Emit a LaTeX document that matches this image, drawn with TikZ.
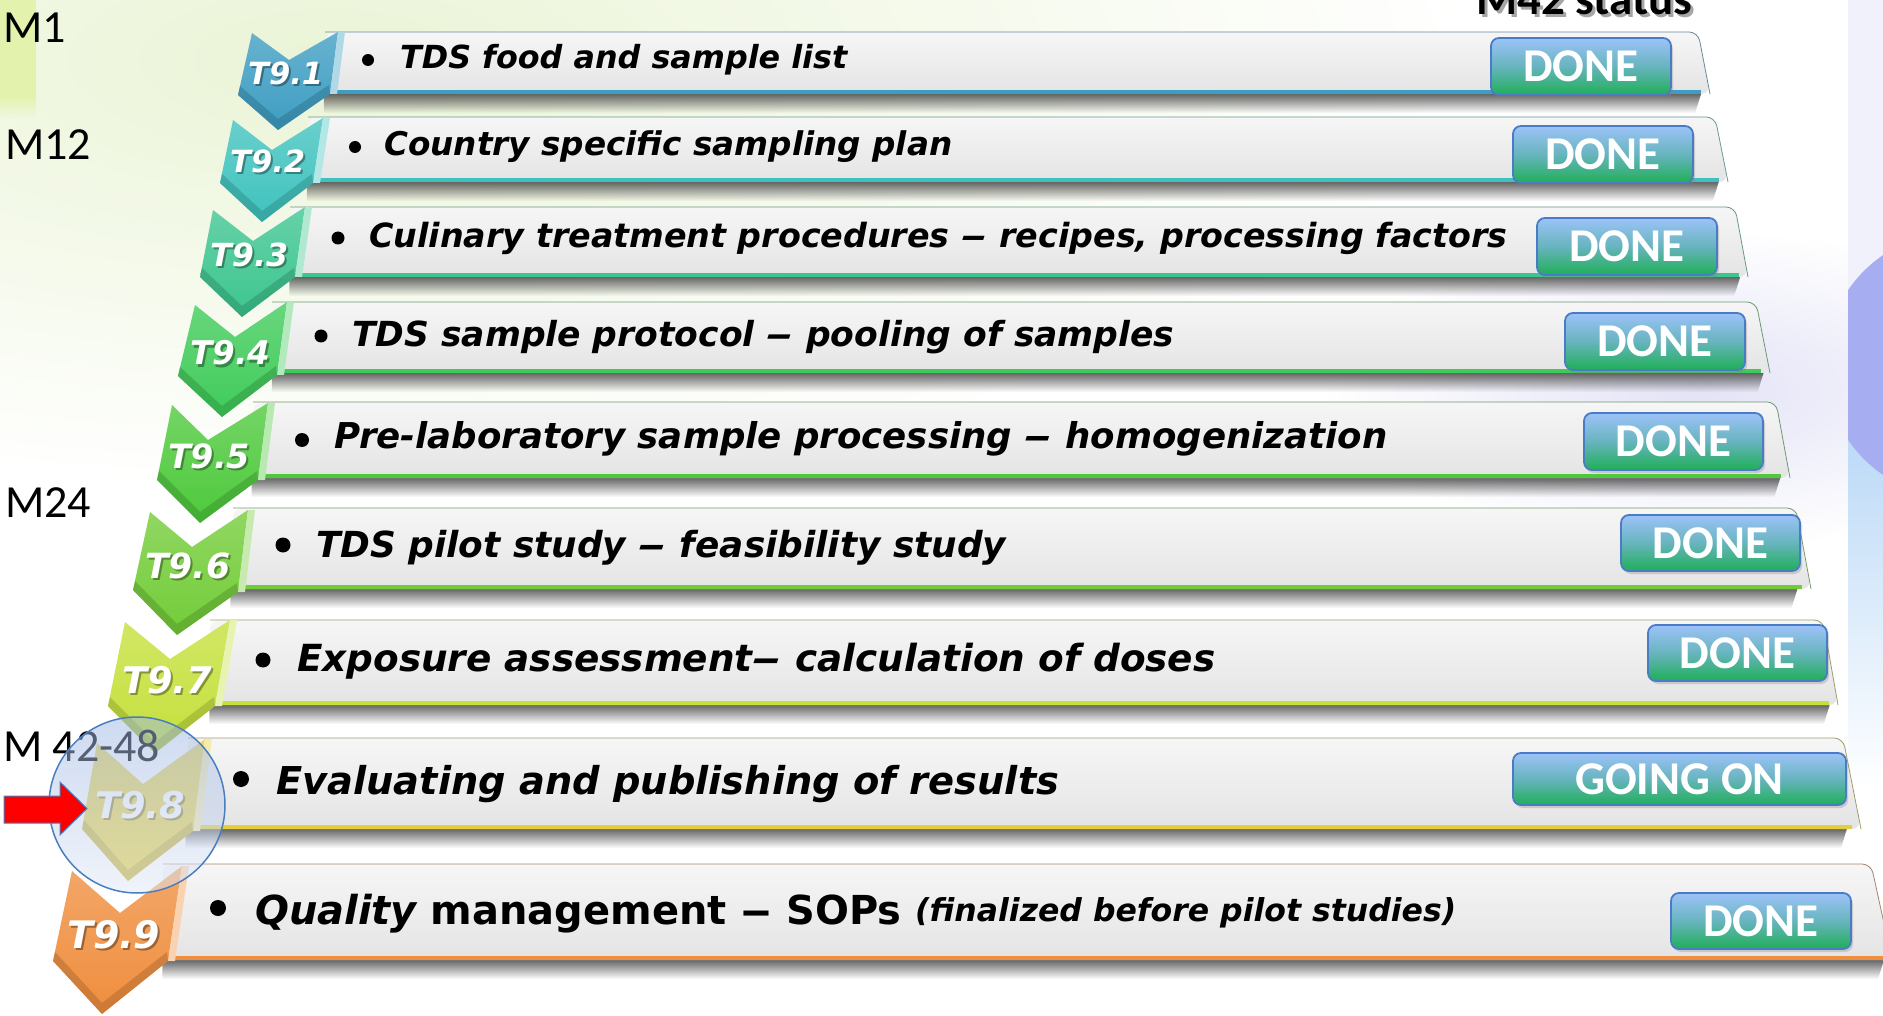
\documentclass[tikz,border=0pt]{standalone}
\usepackage{fontspec}
\usepackage{graphicx}
\usetikzlibrary{calc,fadings,shadows}
\newfontfamily\verdanalike{DejaVu Sans}[BoldFont={DejaVu Sans Bold},ItalicFont={DejaVu Sans Oblique},BoldItalicFont={DejaVu Sans Bold Oblique}]
\newfontfamily\calibrilike{Carlito}

\definecolor{washgreen}{HTML}{EAF4D6}
\definecolor{limeA}{HTML}{E3F3AE}
\definecolor{lavwash}{HTML}{E3E3F7}
\definecolor{stripTop}{HTML}{F1F1FB}
\definecolor{stripPurple}{HTML}{A7ADF1}
\definecolor{stripBlue}{HTML}{BDE2F8}
\definecolor{barhi}{HTML}{F6F6F6}
\definecolor{barlo}{HTML}{E4E4E4}
\definecolor{btntop}{HTML}{9CC3F8}
\definecolor{btnmid}{HTML}{67B4BE}
\definecolor{btnbot}{HTML}{1FAF57}
\definecolor{btnedge}{HTML}{4A7BC6}
\definecolor{cA}{HTML}{3D9DC2}
\definecolor{cB}{HTML}{3FC2BE}
\definecolor{cC}{HTML}{3CC58F}
\definecolor{cD}{HTML}{3FCB59}
\definecolor{cE}{HTML}{4DC93B}
\definecolor{cF}{HTML}{72CC37}
\definecolor{cG}{HTML}{C4E03A}
\definecolor{cH}{HTML}{E5CE3E}
\definecolor{cI}{HTML}{EF8E3E}
\definecolor{ringblue}{HTML}{4A7EC0}
\definecolor{ringfill}{HTML}{9DB6E4}

\tikzfading[name=shadowfade, top color=transparent!15, bottom color=transparent!100]
\tikzfading[name=fadedown, top color=transparent!0, bottom color=transparent!100]

% a dash drawn a little wider than the font's own
\newcommand\widedash{\scalebox{1.6}[1]{–}}

% task bar: #1 colour, #2 left x, #3 top y, #4 bottom y, #5 top-right x, #6 bottom-right x
\newcommand\taskbar[6]{%
  \fill[black!70, path fading=shadowfade] (#2,#4) -- (#6-6,#4) -- (#6-12,#4+19) -- (#2,#4+19) -- cycle;
  \shade[top color=barhi, bottom color=barlo, rounded corners=9pt] (#2,#3) -- (#5,#3) -- (#6,#4) -- (#2,#4) -- cycle;
  \draw[#1!35!gray, line width=0.8pt, rounded corners=9pt] (#2,#3) -- (#5,#3) -- (#6,#4);
  \draw[#1, line width=3.5pt] (#2,#4-1.8) -- (#6-9,#4-1.8);
}
% chevron from the named corner points of row #1, colour #2
\newcommand\taskchevron[2]{%
  \shade[top color=#2!78!white, bottom color=#2] (#1tl) -- (#1n) -- (#1tr) -- (#1rb) -- (#1p) -- (#1lb) -- cycle;
  \fill[#2!40!white] (#1tr) -- ++(7,0) -- ($(#1rb)+(7,0)$) -- (#1rb) -- cycle;
  \fill[#2!70!black, opacity=.45] (#1lb) -- (#1p) -- (#1rb) -- ($(#1rb)+(-1,-9)$) -- ($(#1p)+(0,-11)$) -- ($(#1lb)+(2,-9)$) -- cycle;
}

\begin{document}
\begin{tikzpicture}[x=1pt,y=-1pt,
  tasktext/.style={font=\verdanalike\bfseries\itshape, inner sep=0pt, anchor=base west, text=black},
  tasklabel/.style={font=\verdanalike\bfseries\itshape, text=white, inner sep=0pt, anchor=base west},
  labelshadow/.style={font=\verdanalike\bfseries\itshape, text=black, opacity=.35, inner sep=0pt, anchor=base west},
  bulletdot/.style={circle, fill=black, inner sep=0pt},
  statusbtn/.style={rounded corners=8pt, draw=btnedge, line width=1.8pt, top color=btntop, bottom color=btnbot, middle color=btnmid, text=white, font=\calibrilike\bfseries\fontsize{47}{50}\selectfont, inner sep=0pt, drop shadow={opacity=.3, shadow xshift=2pt, shadow yshift=-3pt}},
  mlabel/.style={font=\calibrilike\fontsize{46}{50}\selectfont, inner sep=0pt, anchor=base west, text=black},
]
\useasboundingbox (0,0) rectangle (1883,1016);

% ---- background ----
\fill[white] (0,0) rectangle (1883,1016);
\shade[inner color=washgreen, outer color=white] (330,60) ellipse [x radius=1150, y radius=430];
\shade[inner color=lavwash, outer color=white] (1700,390) ellipse [x radius=380, y radius=160];
\fill[limeA] (0,0) rectangle (36,96);
\fill[limeA, path fading=fadedown] (0,96) rectangle (36,118);
\begin{scope}
  \clip (1848,0) rectangle (1883,1016);
  \fill[stripTop] (1848,0) rectangle (1883,440);
  \shade[top color=stripBlue!80!stripPurple, bottom color=white] (1848,420) rectangle (1883,790);
  \fill[stripPurple] (1958,365) circle [radius=133];
\end{scope}

% ---- chevron corner points ----
\coordinate (r1tl) at (252,33);  \coordinate (r1n) at (289,60);  \coordinate (r1tr) at (338,32);
\coordinate (r1rb) at (330,94);  \coordinate (r1p) at (278,130); \coordinate (r1lb) at (238,95);
\coordinate (r2tl) at (233,120); \coordinate (r2n) at (272,150); \coordinate (r2tr) at (323,118);
\coordinate (r2rb) at (313,183); \coordinate (r2p) at (262,222); \coordinate (r2lb) at (220,183);
\coordinate (r3tl) at (213,210); \coordinate (r3n) at (253,241); \coordinate (r3tr) at (305,207);
\coordinate (r3rb) at (295,277); \coordinate (r3p) at (242,317); \coordinate (r3lb) at (200,277);
\coordinate (r4tl) at (195,305); \coordinate (r4n) at (235,337); \coordinate (r4tr) at (287,302);
\coordinate (r4rb) at (277,375); \coordinate (r4p) at (222,417); \coordinate (r4lb) at (178,376);
\coordinate (r5tl) at (172,405); \coordinate (r5n) at (208,440); \coordinate (r5tr) at (268,403);
\coordinate (r5rb) at (258,480); \coordinate (r5p) at (200,523); \coordinate (r5lb) at (157,480);
\coordinate (r6tl) at (150,512); \coordinate (r6n) at (192,547); \coordinate (r6tr) at (248,510);
\coordinate (r6rb) at (238,592); \coordinate (r6p) at (177,635); \coordinate (r6lb) at (133,590);
\coordinate (r7tl) at (125,622); \coordinate (r7n) at (170,659); \coordinate (r7tr) at (230,620);
\coordinate (r7rb) at (215,706); \coordinate (r7p) at (155,753); \coordinate (r7lb) at (108,706);
\coordinate (r8tl) at (97,743);  \coordinate (r8n) at (143,784); \coordinate (r8tr) at (205,739);
\coordinate (r8rb) at (193,831); \coordinate (r8p) at (128,881); \coordinate (r8lb) at (82,829);
\coordinate (r9tl) at (72,871);  \coordinate (r9n) at (120,913); \coordinate (r9tr) at (182,866);
\coordinate (r9rb) at (168,961); \coordinate (r9p) at (102,1014); \coordinate (r9lb) at (53,961);

% ---- row 1 ----
\taskbar{cA}{325}{32}{94}{1698}{1710}
\taskchevron{r1}{cA}
\node[labelshadow] (lab1s) at (250,87) {\resizebox{75pt}{!}{T9.1}};
\node[tasklabel] (lab1) at (248,85) {\resizebox{75pt}{!}{T9.1}};
\node[bulletdot, minimum size=12pt] (bul1) at (368,60) {};
\node[tasktext] (txt1) at (400,69) {\resizebox{447pt}{!}{TDS food and sample list}};
\node[statusbtn, minimum width=180pt, minimum height=57pt] (st1) at (1581,66.5) {DONE};

% ---- row 2 ----
\taskbar{cB}{308}{117}{182}{1715}{1728}
\taskchevron{r2}{cB}
\node[labelshadow] (lab2s) at (232,175) {\resizebox{75pt}{!}{T9.2}};
\node[tasklabel] (lab2) at (230,173) {\resizebox{75pt}{!}{T9.2}};
\node[bulletdot, minimum size=12pt] (bul2) at (355,147) {};
\node[tasktext] (txt2) at (384,156) {\resizebox{568pt}{!}{Country specific sampling plan}};
\node[statusbtn, minimum width=180pt, minimum height=57pt] (st2) at (1603,154.5) {DONE};

% ---- row 3 ----
\taskbar{cC}{290}{207}{277}{1735}{1748}
\taskchevron{r3}{cC}
\node[labelshadow] (lab3s) at (212,269) {\resizebox{78pt}{!}{T9.3}};
\node[tasklabel] (lab3) at (210,267) {\resizebox{78pt}{!}{T9.3}};
\node[bulletdot, minimum size=13pt] (bul3) at (338,238) {};
\node[tasktext] (txt3) at (369,248) {\resizebox{1138pt}{!}{Culinary treatment procedures \widedash{} recipes, processing factors}};
\node[statusbtn, minimum width=180pt, minimum height=57pt] (st3) at (1627,246.5) {DONE};

% ---- row 4 ----
\taskbar{cD}{272}{302}{373}{1756}{1770}
\taskchevron{r4}{cD}
\node[labelshadow] (lab4s) at (192,367) {\resizebox{80pt}{!}{T9.4}};
\node[tasklabel] (lab4) at (190,365) {\resizebox{80pt}{!}{T9.4}};
\node[bulletdot, minimum size=13pt] (bul4) at (321,336) {};
\node[tasktext] (txt4) at (352,346) {\resizebox{822pt}{!}{TDS sample protocol \widedash{} pooling of samples}};
\node[statusbtn, minimum width=180pt, minimum height=57pt] (st4) at (1655,341.5) {DONE};

% ---- row 5 ----
\taskbar{cE}{253}{402}{478}{1776}{1790}
\taskchevron{r5}{cE}
\node[labelshadow] (lab5s) at (170,470) {\resizebox{82pt}{!}{T9.5}};
\node[tasklabel] (lab5) at (168,468) {\resizebox{82pt}{!}{T9.5}};
\node[bulletdot, minimum size=14pt] (bul5) at (302,440) {};
\node[tasktext] (txt5) at (334,448) {\resizebox{1053pt}{!}{Pre-laboratory sample processing \widedash{} homogenization}};
\node[statusbtn, minimum width=179pt, minimum height=57pt] (st5) at (1673.5,441.5) {DONE};

% ---- row 6 ----
\taskbar{cF}{233}{508}{589}{1796}{1811}
\taskchevron{r6}{cF}
\node[labelshadow] (lab6s) at (147,580) {\resizebox{85pt}{!}{T9.6}};
\node[tasklabel] (lab6) at (145,578) {\resizebox{85pt}{!}{T9.6}};
\node[bulletdot, minimum size=15pt] (bul6) at (283,545) {};
\node[tasktext] (txt6) at (316,557) {\resizebox{690pt}{!}{TDS pilot study \widedash{} feasibility study}};
\node[statusbtn, minimum width=179pt, minimum height=56pt] (st6) at (1710.5,543) {DONE};

% ---- row 7 ----
\taskbar{cG}{210}{620}{705}{1823}{1838}
\taskchevron{r7}{cG}
\node[labelshadow] (lab7s) at (124,695) {\resizebox{90pt}{!}{T9.7}};
\node[tasklabel] (lab7) at (122,693) {\resizebox{90pt}{!}{T9.7}};
\node[bulletdot, minimum size=15pt] (bul7) at (263,660) {};
\node[tasktext] (txt7) at (297,671) {\resizebox{918pt}{!}{Exposure assessment\widedash{} calculation of doses}};
\node[statusbtn, minimum width=179pt, minimum height=56pt] (st7) at (1737.5,653) {DONE};

% ---- row 8 ----
\taskbar{cH}{188}{738}{829}{1843}{1861}
\taskchevron{r8}{cH}
\node[labelshadow] (lab8s) at (97,820) {\resizebox{90pt}{!}{T9.8}};
\node[tasklabel] (lab8) at (95,818) {\resizebox{90pt}{!}{T9.8}};
\node[bulletdot, minimum size=16pt] (bul8) at (241,779) {};
\node[tasktext] (txt8) at (276,794) {\resizebox{783pt}{!}{Evaluating and publishing of results}};
\node[statusbtn, minimum width=333pt, minimum height=52pt] (st8) at (1679.5,779) {GOING ON};

% ---- row 9 ----
\taskbar{cI}{163}{864}{960}{1871}{1892}
\taskchevron{r9}{cI}
\node[labelshadow] (lab9s) at (69,950) {\resizebox{93pt}{!}{T9.9}};
\node[tasklabel] (lab9) at (67,948) {\resizebox{93pt}{!}{T9.9}};
\node[bulletdot, minimum size=16pt] (bul9) at (218,908) {};
\node[tasktext] (txt9) at (255,924) {\resizebox{646pt}{!}{Quality \upshape management \widedash{} SOPs}};
\node[tasktext] (txt9b) at (915,921) {\resizebox{541pt}{!}{(finalized before pilot studies)}};
\node[statusbtn, minimum width=180pt, minimum height=56pt] (st9) at (1761,921) {DONE};

% ---- milestone labels ----
\node[mlabel] (m1) at (3,43) {M1};
\node[mlabel] (m12) at (5,160) {M12};
\node[mlabel] (m24) at (5,517) {M24};
\node[mlabel] (m42) at (3,761) {M 42-48};

% ---- status heading ----
\node[font=\calibrilike\bfseries\fontsize{47}{50}\selectfont, text=black, opacity=.35, inner sep=0pt, anchor=base west] (headshadow) at (1479,18) {M42 status};
\node[font=\calibrilike\bfseries\fontsize{47}{50}\selectfont, text=black, inner sep=0pt, anchor=base west] (heading) at (1476,15) {M42 status};

% ---- current task highlight ----
\node[circle, minimum size=176pt, inner sep=0pt, top color=ringfill, bottom color=ringfill!30!white, fill opacity=.5, draw=ringblue, draw opacity=1, line width=1.5pt] (focus) at (137,805) {};
\fill[red, draw=ringblue, line width=1pt] (4,796) -- (60,796) -- (60,782) -- (87,808.5) -- (60,835) -- (60,823) -- (4,823) -- cycle;
\end{tikzpicture}
\end{document}
